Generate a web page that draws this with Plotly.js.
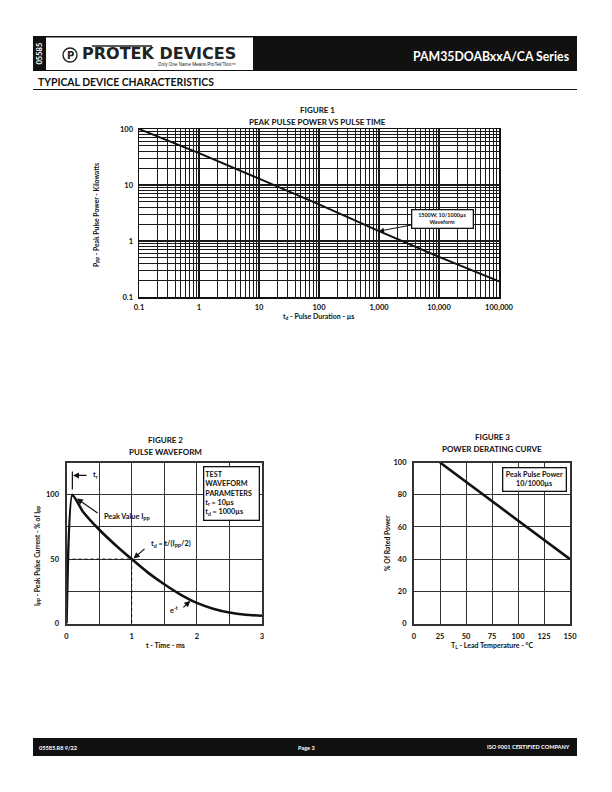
<!DOCTYPE html>
<html><head><meta charset="utf-8">
<script src="https://cdn.plot.ly/plotly-3.0.1.min.js"></script>
<style>html,body{margin:0;padding:0;background:#fff;}#chart{width:612px;height:792px;}</style>
</head><body><div id="chart"></div>
<script>
// ---------- Figure 1 : Peak pulse power vs pulse time ----------
const fig1Duration = [0.1, 1, 10, 100, 1000, 10000, 100000];
const fig1Power = [100, 37, 13, 4.5, 1.5, 0.52, 0.19];
const fig1XDecades = [0.1, 1, 10, 100, 1000, 10000, 100000];
const fig1XTickLabels = ['0.1', '1', '10', '100', '1,000', '10,000', '100,000'];
const fig1YDecades = [0.1, 1, 10, 100];
const fig1YTickLabels = ['0.1', '1', '10', '100'];

// ---------- Figure 2 : Pulse waveform ----------
const fig2Time = [0, 0.09, 0.25, 0.5, 0.75, 1, 1.25, 1.5, 1.75, 2, 2.25, 2.5, 2.75, 3];
const fig2Current = [0, 100, 87, 73, 61, 50, 39.5, 30.5, 22.5, 16, 11.5, 8.5, 6.8, 6];
const fig2HalfTime = [0, 1, 1];
const fig2HalfCurrent = [50, 50, 0];
const fig2XTicks = [0, 1, 2, 3];
const fig2YTicks = [0, 50, 100];

// ---------- Figure 3 : Power derating curve ----------
const fig3Temp = [25, 150];
const fig3Power = [100, 40];
const fig3XTicks = [0, 25, 50, 75, 100, 125, 150];
const fig3YTicks = [0, 20, 40, 60, 80, 100];

// ---------- helpers ----------
const W = 612, H = 792;
const px = x => x / W;
const py = y => 1 - y / H;
const FONT = 'Lato, "Open Sans", sans-serif';

const traces = [
  {x: fig1Duration, y: fig1Power, xaxis: 'x', yaxis: 'y', mode: 'lines',
   line: {color: '#111', width: 2}, hoverinfo: 'skip'},
  {x: fig2HalfTime, y: fig2HalfCurrent, xaxis: 'x2', yaxis: 'y2', mode: 'lines',
   line: {color: '#111', width: 1, dash: 'dot'}, hoverinfo: 'skip'},
  {x: fig2Time, y: fig2Current, xaxis: 'x2', yaxis: 'y2', mode: 'lines',
   line: {color: '#111', width: 2.6, shape: 'spline', smoothing: 0.5}, hoverinfo: 'skip'},
  {x: fig3Temp, y: fig3Power, xaxis: 'x3', yaxis: 'y3', mode: 'lines',
   line: {color: '#111', width: 2.6}, hoverinfo: 'skip'}
];

const tickFont = {family: FONT, size: 7.5, color: '#111', weight: 'bold'};
const logMinor = {showgrid: true, dtick: 'D1', gridcolor: '#1a1a1a', gridwidth: 1, ticks: ''};

const layout = {
  width: W, height: H,
  margin: {l: 0, r: 0, t: 0, b: 0},
  paper_bgcolor: '#fff', plot_bgcolor: '#fff',
  showlegend: false,
  font: {family: FONT, color: '#111'},
  xaxis: {
    type: 'log', domain: [px(139), px(499)], range: [-1, 5], anchor: 'y',
    tickmode: 'array', tickvals: fig1XDecades, ticktext: fig1XTickLabels,
    showgrid: true, gridcolor: '#1a1a1a', gridwidth: 1.2, zeroline: false,
    minor: logMinor,
    showline: true, linecolor: '#111', linewidth: 1.5, mirror: true,
    ticks: '', tickfont: tickFont, ticklabelstandoff: 2, fixedrange: true
  },
  yaxis: {
    type: 'log', domain: [py(297), py(129)], range: [-1, 2], anchor: 'x',
    tickmode: 'array', tickvals: fig1YDecades, ticktext: fig1YTickLabels,
    showgrid: true, gridcolor: '#1a1a1a', gridwidth: 1.2, zeroline: false,
    minor: logMinor,
    showline: true, linecolor: '#111', linewidth: 1.5, mirror: true,
    ticks: '', tickfont: tickFont, ticklabelstandoff: 3, fixedrange: true
  },
  xaxis2: {
    domain: [px(66.5), px(262)], range: [0, 3], anchor: 'y2',
    tickmode: 'array', tickvals: fig2XTicks,
    showgrid: true, gridcolor: '#333', gridwidth: 1, zeroline: false,
    minor: {showgrid: true, dtick: 0.5, tick0: 0, gridcolor: '#333', gridwidth: 1, ticks: ''},
    showline: true, linecolor: '#333', linewidth: 2, mirror: true,
    ticks: '', tickfont: tickFont, ticklabelstandoff: 4, fixedrange: true
  },
  yaxis2: {
    domain: [py(623.5), py(462.5)], range: [0, 125], anchor: 'x2',
    tickmode: 'array', tickvals: fig2YTicks,
    showgrid: true, gridcolor: '#333', gridwidth: 1, zeroline: false,
    minor: {showgrid: true, dtick: 25, tick0: 0, gridcolor: '#333', gridwidth: 1, ticks: ''},
    showline: true, linecolor: '#333', linewidth: 2, mirror: true,
    ticks: '', tickfont: tickFont, ticklabelstandoff: 4, fixedrange: true
  },
  xaxis3: {
    domain: [px(414), px(570)], range: [0, 150], anchor: 'y3',
    tickmode: 'array', tickvals: fig3XTicks,
    showgrid: true, gridcolor: '#333', gridwidth: 1, zeroline: false,
    showline: true, linecolor: '#333', linewidth: 2, mirror: true,
    ticks: '', tickfont: tickFont, ticklabelstandoff: 4, fixedrange: true
  },
  yaxis3: {
    domain: [py(623.5), py(462.5)], range: [0, 100], anchor: 'x3',
    tickmode: 'array', tickvals: fig3YTicks,
    showgrid: true, gridcolor: '#333', gridwidth: 1, zeroline: false,
    showline: true, linecolor: '#333', linewidth: 2, mirror: true,
    ticks: '', tickfont: tickFont, ticklabelstandoff: 4, fixedrange: true
  },
  shapes: [
    {type: 'rect', xref: 'paper', yref: 'paper', x0: px(33), x1: px(577), y0: py(71), y1: py(36),
     fillcolor: '#111', line: {width: 0}, layer: 'below'},
    {type: 'rect', xref: 'paper', yref: 'paper', x0: px(46), x1: px(253), y0: py(70), y1: py(37.5),
     fillcolor: '#fff', line: {width: 0}, layer: 'below'},
    {type: 'circle', xref: 'paper', yref: 'paper', x0: px(63), x1: px(77), y0: py(62), y1: py(48),
     line: {color: '#222', width: 1.4}},
    {type: 'line', xref: 'paper', yref: 'paper', x0: px(92), x1: px(152), y0: py(46), y1: py(46),
     line: {color: '#222', width: 1.6}},
    {type: 'line', xref: 'paper', yref: 'paper', x0: px(33), x1: px(577), y0: py(89.5), y1: py(89.5),
     line: {color: '#111', width: 1}},
    {type: 'rect', xref: 'paper', yref: 'paper', x0: px(33), x1: px(577), y0: py(756), y1: py(738),
     fillcolor: '#111', line: {width: 0}, layer: 'below'},
    {type: 'line', xref: 'x2', yref: 'y2', x0: 0.09, x1: 0.09, y0: 104, y1: 118,
     line: {color: '#111', width: 1.2}}
  ],
  annotations: []
};

function A(x, y, text, o) {
  layout.annotations.push(Object.assign({
    xref: 'paper', yref: 'paper', x: px(x), y: py(y), text: text, showarrow: false,
    xanchor: 'center', yanchor: 'middle',
    font: {family: FONT, size: 8, color: '#111', weight: 'bold'}
  }, o || {}));
}

// header texts
A(39.5, 54, '05585', {textangle: -90, font: {family: FONT, size: 7.5, color: '#fff', weight: 'bold'}});
A(70, 55.5, 'P', {font: {family: 'DejaVu Sans, sans-serif', size: 10, color: '#222', weight: 'bold'}});
A(80, 54, 'PROTEK DEVICES', {xanchor: 'left', font: {family: 'DejaVu Sans, sans-serif', size: 16, color: '#222', weight: 'bold'}});
A(238, 64.5, 'Only One Name Means ProTek\'Tion™', {xanchor: 'right', font: {family: 'Liberation Sans, Arial, sans-serif', size: 4.6, color: '#222'}});
A(572, 56, 'PAM35DOABxxA/CA Series', {xanchor: 'right', font: {family: FONT, size: 12.3, color: '#fff', weight: 'bold'}});
A(36, 82, 'TYPICAL DEVICE CHARACTERISTICS', {xanchor: 'left', font: {family: FONT, size: 10.4, color: '#111', weight: 'bold'}});

// footer texts
A(37, 747, '05585.R8 9/22', {xanchor: 'left', font: {family: FONT, size: 5.6, color: '#fff', weight: 'bold'}});
A(306, 747, 'Page 3', {font: {family: FONT, size: 5.6, color: '#fff', weight: 'bold'}});
A(572, 746, 'ISO 9001 CERTIFIED COMPANY', {xanchor: 'right', font: {family: FONT, size: 5.6, color: '#fff', weight: 'bold'}});

// figure 1 titles
A(317, 110.5, 'FIGURE 1');
A(317, 122, 'PEAK PULSE POWER VS PULSE TIME');
A(318, 316, 't<sub>d</sub> - Pulse Duration - µs', {font: {family: FONT, size: 7, color: '#111', weight: 'bold'}});
A(97, 215, 'P<sub>PP</sub> - Peak Pulse Power - Kilowatts', {textangle: -90, font: {family: FONT, size: 6.8, color: '#111', weight: 'bold'}});
layout.annotations.push({
  xref: 'x', yref: 'y', x: Math.log10(fig1Duration[4]), y: Math.log10(fig1Power[4]),
  text: '1500W, 10/1000µs<br>Waveform', showarrow: true, arrowhead: 2, arrowsize: 1, arrowwidth: 1, arrowcolor: '#111',
  ax: 63, ay: -12, bgcolor: '#fff', bordercolor: '#111', borderwidth: 1.3, borderpad: 2,
  width: 56, font: {family: FONT, size: 5.4, color: '#111', weight: 'bold'}
});

// figure 2 titles and notes
A(165, 440, 'FIGURE 2');
A(165, 451.5, 'PULSE WAVEFORM');
A(165, 645, 't - Time - ms', {font: {family: FONT, size: 7, color: '#111', weight: 'bold'}});
A(37, 556, 'I<sub>PP</sub> - Peak Pulse Current - % of I<sub>PP</sub>', {textangle: -90, font: {family: FONT, size: 6.8, color: '#111', weight: 'bold'}});
A(231, 493.5, 'TEST<br>WAVEFORM<br>PARAMETERS<br>t<sub>r</sub> = 10µs<br>t<sub>d</sub> = 1000µs',
  {align: 'left', width: 52, height: 50, bgcolor: '#fff', bordercolor: '#111', borderwidth: 1.3, borderpad: 1,
   font: {family: FONT, size: 7.2, color: '#111', weight: 'bold'}});

const noteFont = {family: FONT, size: 7.3, color: '#111', weight: 'bold'};
layout.annotations.push({xref: 'x2', yref: 'y2', axref: 'x2', ayref: 'y2', x: 0.1, y: 115, ax: 0.33, ay: 115,
  text: '', showarrow: true, arrowhead: 2, arrowsize: 1, arrowwidth: 1.2, arrowcolor: '#111'});
layout.annotations.push({xref: 'x2', yref: 'y2', x: 0.37, y: 115.5, text: 't<sub>r</sub>', showarrow: false,
  xanchor: 'left', yanchor: 'middle', font: noteFont});
layout.annotations.push({xref: 'x2', yref: 'y2', axref: 'x2', ayref: 'y2', x: 0.16, y: 97, ax: 0.5, ay: 85,
  text: '', showarrow: true, arrowhead: 2, arrowsize: 1, arrowwidth: 1.2, arrowcolor: '#111'});
layout.annotations.push({xref: 'x2', yref: 'y2', x: 0.54, y: 82.5, text: 'Peak Value I<sub>PP</sub>', showarrow: false,
  xanchor: 'left', yanchor: 'middle', font: noteFont});
layout.annotations.push({xref: 'x2', yref: 'y2', axref: 'x2', ayref: 'y2', x: 1.03, y: 50.5, ax: 1.22, ay: 59,
  text: '', showarrow: true, arrowhead: 2, arrowsize: 1, arrowwidth: 1.2, arrowcolor: '#111'});
layout.annotations.push({xref: 'x2', yref: 'y2', x: 1.27, y: 61.5, text: 't<sub>d</sub> = t/(I<sub>PP</sub>/2)', showarrow: false,
  xanchor: 'left', yanchor: 'middle', font: noteFont});
layout.annotations.push({xref: 'x2', yref: 'y2', axref: 'x2', ayref: 'y2', x: 1.9, y: 17.5, ax: 1.77, ay: 11.5,
  text: '', showarrow: true, arrowhead: 2, arrowsize: 1, arrowwidth: 1.2, arrowcolor: '#111'});
layout.annotations.push({xref: 'x2', yref: 'y2', x: 1.74, y: 10.5, text: 'e<sup>-t</sup>', showarrow: false,
  xanchor: 'right', yanchor: 'middle', font: noteFont});

// figure 3 titles and notes
A(492, 437, 'FIGURE 3');
A(492, 448.5, 'POWER DERATING CURVE');
A(492, 645, 'T<sub>L</sub> - Lead Temperature - °C', {font: {family: FONT, size: 7, color: '#111', weight: 'bold'}});
A(387, 543, '% Of Rated Power', {textangle: -90, font: {family: FONT, size: 6.8, color: '#111', weight: 'bold'}});
A(534, 479, 'Peak Pulse Power<br>10/1000µs',
  {width: 60, height: 20, bgcolor: '#fff', bordercolor: '#111', borderwidth: 1.3, borderpad: 1,
   font: {family: FONT, size: 7.2, color: '#111', weight: 'bold'}});

Plotly.newPlot('chart', traces, layout, {staticPlot: true, displayModeBar: false});
</script>
</body></html>
